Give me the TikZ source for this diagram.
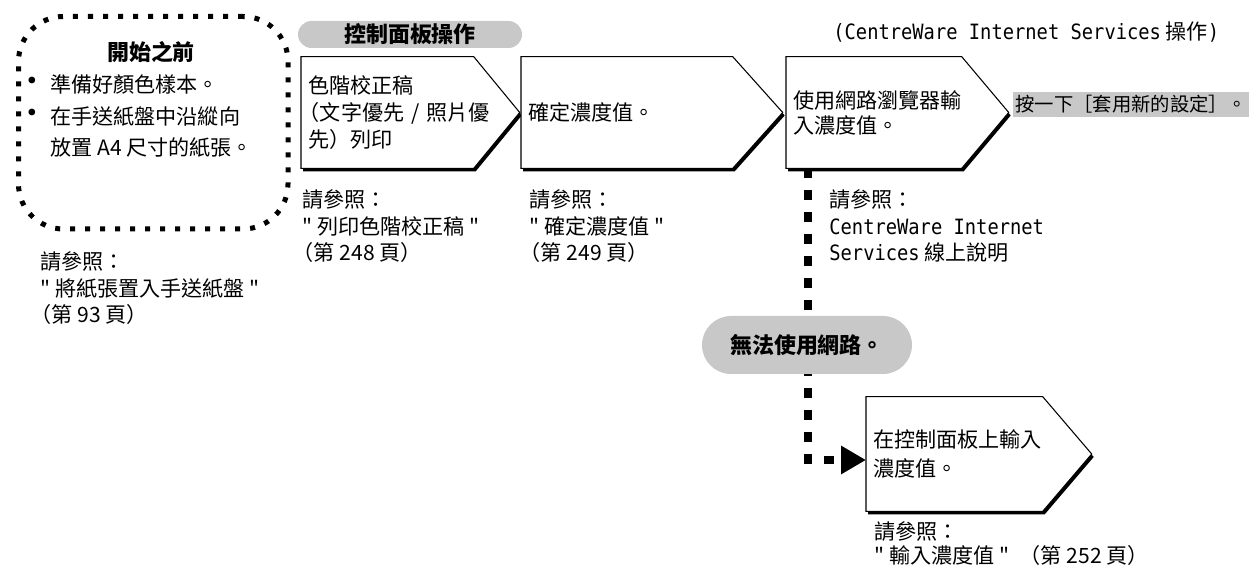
\documentclass[tikz,border=0pt]{standalone}
\usepackage{fontspec}
\defaultfontfeatures[\rmfamily,\sffamily]{}
\setmainfont{Noto Sans CJK TC}
\newfontfamily\cwfont[FakeStretch=0.89]{DejaVu Sans Mono}
\usetikzlibrary{arrows.meta, backgrounds}
\definecolor{panelgray}{RGB}{200,200,200}
\newcommand{\zhlparen}{\hspace*{-.45em}（}
\newcommand{\bigbullet}{\makebox[.72cm]{\fontsize{18}{18}\selectfont •}}

\begin{document}
\begin{tikzpicture}[
    stepbox/.style={anchor=west, minimum height=2.22cm, inner xsep=.14cm, inner ysep=0pt,
      align=left, font=\fontsize{12}{15.4}\selectfont},
    stepline/.style={draw=black, fill=white, line width=.6pt},
    refnote/.style={anchor=base west, align=left, inner sep=0pt, font=\fontsize{12}{15.1}\selectfont},
    pill/.style={fill=panelgray, rounded corners=#1, inner sep=0pt,
      font=\fontsize{12.5}{15}\selectfont\bfseries},
    netline/.style={line width=.17cm, dash pattern=on .2cm off .24cm,
      -{Triangle[length=.5cm, width=.54cm]}}]
  \useasboundingbox (0,0) rectangle (25.02,-11.38);

  % before you start
  \node[draw, line width=.1cm, dash pattern=on .1cm off .2cm, rounded corners=.9cm,
    minimum width=5.39cm, minimum height=4.25cm] (before) at (3.065,-2.455) {};
  \node[font=\fontsize{12.5}{15}\selectfont\bfseries] (beforetitle) at (3.02,-1.04) {開始之前};
  \node[anchor=base west, align=left, inner sep=0pt, font=\fontsize{12}{18.2}\selectfont] (preplist) at (0.28,-3.12)
    {\bigbullet 準備好顏色樣本。\\
     \bigbullet 在手送紙盤中沿縱向\\
     \hspace*{.72cm}放置 A4 尺寸的紙張。};
  \node[refnote] (beforeref) at (0.8,-6.46) {請參照：\\" 將紙張置入手送紙盤 "\\\zhlparen 第 93 頁）};

  % control panel steps
  \node[pill=.27cm, minimum width=4.48cm, minimum height=.54cm] (panel) at (8.2,-.69) {控制面板操作};
  \node[stepbox, minimum width=4.36cm, text width=4.08cm] (s1) at (6.02,-2.25)
    {色階校正稿\\\zhlparen 文字優先 / 照片優\\先）列印};
  \node[stepbox, minimum width=5.22cm, text width=4.94cm] (s2) at (10.42,-2.25) {確定濃度值。};
  \node[refnote] (r1) at (6.04,-5.22) {請參照：\\" 列印色階校正稿 "\\\zhlparen 第 248 頁）};
  \node[refnote] (r2) at (10.58,-5.22) {請參照：\\" 確定濃度值 "\\\zhlparen 第 249 頁）};

  % web steps
  \node[anchor=west, inner sep=0pt, font=\fontsize{12}{15}\selectfont] (cwtitle) at (16.66,-.64)
    {{\cwfont (CentreWare Internet Services} 操作{\cwfont )}};
  \node[stepbox, minimum width=4.44cm, text width=4.16cm, font=\fontsize{12}{14.2}\selectfont] (s3) at (15.72,-2.25)
    {使用網路瀏覽器輸\\入濃度值。};
  \node[anchor=west, fill=panelgray, minimum height=.5cm, inner xsep=.04cm, inner ysep=0pt,
    font=\fontsize{11}{14}\selectfont] (apply) at (20.26,-2.09) {按一下［套用新的設定］。};
  \node[refnote] (r3) at (16.58,-5.22) {請參照：\\{\cwfont CentreWare Internet}\\{\cwfont Services} 線上說明};

  % no network
  \node[pill=.58cm, minimum width=4.2cm, minimum height=1.16cm] (nonet) at (16.14,-6.9) {無法使用網路。};
  \node[stepbox, minimum width=4.5cm, text width=4.22cm, minimum height=2.28cm,
    font=\fontsize{12}{17}\selectfont] (s4) at (17.32,-9.08) {在控制面板上輸入\\濃度值。};
  \node[refnote, font=\fontsize{12}{13.1}\selectfont] (r4) at (17.48,-11.26)
    {請參照：\\" 輸入濃度值 "\enspace（第 252 頁）};

  \begin{scope}[on background layer]
    \draw[netline] ([xshift=.44cm]s3.south west) |- ([yshift=-.12cm]s4.west);
    \foreach \n/\dep in {s1/.92cm, s2/1cm, s3/.94cm, s4/.98cm} {
      \fill[transform canvas={shift={(.04,-.06)}}] (\n.south west) -- (\n.north west)
        -- ([xshift=-\dep]\n.north east) -- (\n.east) -- ([xshift=-\dep]\n.south east) -- cycle;
      \draw[stepline] (\n.south west) -- (\n.north west)
        -- ([xshift=-\dep]\n.north east) -- (\n.east) -- ([xshift=-\dep]\n.south east) -- cycle;
    }
  \end{scope}
\end{tikzpicture}
\end{document}
